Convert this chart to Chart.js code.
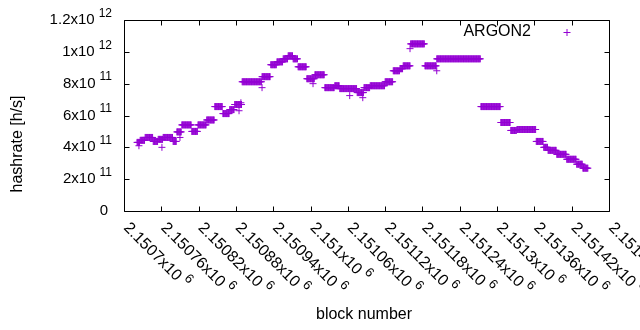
<!DOCTYPE html>
<html>
<head>
<meta charset="utf-8">
<script src="https://cdn.jsdelivr.net/npm/chart.js@4.4.1/dist/chart.umd.min.js"></script>
<style>
  html, body { margin: 0; padding: 0; background: #fff; }
</style>
</head>
<body>
<canvas id="hashChart" width="640" height="330"></canvas>
<script>
// hashrate steps: each run starts at segStartBlock[i] and lasts until the next one
const segStartBlock = [
    2150721, 2150726, 2150734, 2150747, 2150755, 2150763, 2150779, 2150785, 2150793, 2150809,
    2150819, 2150833, 2150846, 2150859, 2150870, 2150878, 2150890, 2150922, 2150936, 2150946,
    2150956, 2150964, 2150972, 2150980, 2150994, 2151007, 2151023, 2151039, 2151047, 2151075,
    2151086, 2151096, 2151120, 2151133, 2151144, 2151149, 2151161, 2151184, 2151203, 2151274,
    2151306, 2151322, 2151332, 2151363, 2151375, 2151382, 2151396, 2151412, 2151428, 2151438
];
const segHashrate = [
    4.31e11, 4.44e11, 4.62e11, 4.37e11, 4.50e11, 4.62e11, 4.37e11, 4.97e11, 5.41e11, 5.00e11,
    5.41e11, 5.72e11, 6.56e11, 6.12e11, 6.37e11, 6.69e11, 8.12e11, 8.44e11, 9.19e11, 9.37e11,
    9.56e11, 9.75e11, 9.56e11, 9.06e11, 8.31e11, 8.56e11, 7.75e11, 7.87e11, 7.69e11, 7.44e11,
    7.75e11, 7.87e11, 8.12e11, 8.81e11, 8.94e11, 9.12e11, 1.05e12, 9.12e11, 9.56e11, 6.56e11,
    5.56e11, 5.06e11, 5.12e11, 4.37e11, 4.00e11, 3.81e11, 3.56e11, 3.25e11, 2.94e11, 2.69e11
];
const lastBlock = 2151446;

// single blocks that sit off their run
const strayBlock    = [2150724, 2150761, 2150790, 2150885, 2150888, 2150922, 2151004, 2151063, 2151084, 2151160, 2151203];
const strayHashrate = [4.10e11, 4.00e11, 4.62e11, 6.30e11, 6.80e11, 7.75e11, 8.00e11, 7.25e11, 7.12e11, 1.02e12, 8.81e11];

const xTickValues = [2150700, 2150760, 2150820, 2150880, 2150940, 2151000, 2151060,
                     2151120, 2151180, 2151240, 2151300, 2151360, 2151420, 2151480];
const xTickMantissa = ["2.1507", "2.15076", "2.15082", "2.15088", "2.15094", "2.151", "2.15106",
                       "2.15112", "2.15118", "2.15124", "2.1513", "2.15136", "2.15142", "2.15148"];
const yTickValues = [0, 2e11, 4e11, 6e11, 8e11, 1e12, 1.2e12];
const yTickBase = ["0", "2x10", "4x10", "6x10", "8x10", "1x10", "1.2x10"];
const yTickExp  = ["", "11", "11", "11", "11", "12", "12"];

const seriesName = "ARGON2";
const seriesColor = "#9400d3";

const points = [];
segStartBlock.forEach((start, i) => {
    const end = i + 1 < segStartBlock.length ? segStartBlock[i + 1] - 1 : lastBlock;
    for (let b = start; b <= end; b++) points.push({ x: b, y: segHashrate[i] });
});
strayBlock.forEach((b, i) => points.push({ x: b, y: strayHashrate[i] }));

const FONT = "'Liberation Sans', Arial, sans-serif";

function drawPower(ctx, base, exp, x, y, alignRight, size) {
    const baseFont = size + "px " + FONT;
    const expFont = Math.round(size * 0.8) + "px " + FONT;
    ctx.font = baseFont;
    const wb = ctx.measureText(base).width;
    ctx.font = expFont;
    const we = exp ? ctx.measureText(exp).width : 0;
    const gap = exp ? 4 : 0;
    const x0 = alignRight ? x - (wb + gap + we) : x;
    ctx.textAlign = "left";
    ctx.textBaseline = "middle";
    ctx.font = baseFont;
    ctx.fillText(base, x0, y);
    if (exp) {
        ctx.font = expFont;
        ctx.fillText(exp, x0 + wb + gap, y - 6.5);
    }
}

// gnuplot look: closed frame, inward ticks, x10^n labels
const gnuplotFrame = {
    id: "gnuplotFrame",
    afterDraw(chart) {
        const ctx = chart.ctx;
        const a = chart.chartArea;
        const xs = chart.scales.x, ys = chart.scales.y;
        const L = Math.round(a.left) + 0.5, R = Math.round(a.right) + 0.5;
        const T = Math.round(a.top) + 0.5, B = Math.round(a.bottom) + 0.5;
        ctx.save();
        ctx.strokeStyle = "#000";
        ctx.lineWidth = 1;
        ctx.fillStyle = "#000";
        ctx.beginPath();
        ctx.rect(L, T, R - L, B - T);

        yTickValues.forEach(v => {
            const y = Math.round(ys.getPixelForValue(v)) + 0.5;
            ctx.moveTo(L, y); ctx.lineTo(L + 5, y);
            ctx.moveTo(R, y); ctx.lineTo(R - 5, y);
        });
        xTickValues.forEach(v => {
            const x = Math.round(xs.getPixelForValue(v)) + 0.5;
            ctx.moveTo(x, B); ctx.lineTo(x, B - 5);
            ctx.moveTo(x, T); ctx.lineTo(x, T + 5);
        });
        ctx.stroke();

        yTickValues.forEach((v, i) => {
            const y = ys.getPixelForValue(v);
            drawPower(ctx, yTickBase[i], yTickExp[i], yTickExp[i] ? 112 : 108, y, true, 15);
        });

        xTickValues.forEach((v, i) => {
            const x = xs.getPixelForValue(v);
            ctx.save();
            ctx.translate(x + 2, B + 14);
            ctx.rotate(Math.PI / 4);
            drawPower(ctx, xTickMantissa[i] + "x10", "6", 0, 0, false, 16);
            ctx.restore();
        });

        ctx.font = "16px " + FONT;
        ctx.textAlign = "center";
        ctx.textBaseline = "middle";
        ctx.fillText("block number", 364, 315);
        ctx.save();
        ctx.translate(18, 144);
        ctx.rotate(-Math.PI / 2);
        ctx.fillText("hashrate [h/s]", 0, 0);
        ctx.restore();

        // key
        ctx.textAlign = "right";
        ctx.fillText(chart.data.datasets[0].label, 531, 32);
        ctx.strokeStyle = seriesColor;
        ctx.beginPath();
        ctx.moveTo(563.5, 32.5); ctx.lineTo(570.5, 32.5);
        ctx.moveTo(567, 29); ctx.lineTo(567, 36);
        ctx.stroke();
        ctx.restore();
    }
};

new Chart(document.getElementById("hashChart"), {
    type: "scatter",
    data: {
        datasets: [{
            label: seriesName,
            data: points,
            pointStyle: "cross",
            pointRadius: 3.5,
            pointBorderWidth: 1,
            borderColor: seriesColor,
            backgroundColor: seriesColor,
            showLine: false
        }]
    },
    options: {
        responsive: false,
        animation: false,
        layout: { padding: { left: 124, top: 20, right: 31, bottom: 119 } },
        plugins: { legend: { display: false }, tooltip: { enabled: false } },
        scales: {
            x: { type: "linear", display: false, min: xTickValues[0], max: xTickValues[xTickValues.length - 1] },
            y: { type: "linear", display: false, min: yTickValues[0], max: yTickValues[yTickValues.length - 1] }
        }
    },
    plugins: [gnuplotFrame]
});
</script>
</body>
</html>
